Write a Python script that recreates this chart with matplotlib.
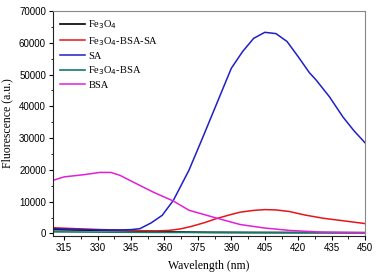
import numpy as np
import matplotlib.pyplot as plt
from matplotlib.ticker import MultipleLocator

# данные
wl_sa = [310, 315, 320, 325, 330, 335, 340, 345, 349, 354, 359, 364, 371, 377, 390, 395, 400, 405, 410, 415, 420, 425, 428, 434, 440, 445, 450]
sa = [1500, 1400, 1300, 1200, 1150, 1100, 1100, 1200, 1500, 3300, 5700, 10400, 19900, 29900, 52000, 57200, 61400, 63300, 62900, 60400, 55600, 50600, 48300, 43000, 36700, 32300, 28500]

wl_bsa = [310, 315, 324, 331, 336, 340, 349, 355, 364, 371, 383, 394, 405, 416, 431, 450]
bsa = [16700, 17800, 18500, 19200, 19200, 18300, 15100, 13000, 10200, 7300, 4900, 2800, 1700, 950, 400, 200]

wl_fbs = [310, 320, 330, 340, 350, 356, 362, 367, 372, 378, 383, 389, 394, 400, 405, 410, 416, 423, 431, 440, 450]
fe_bsa_sa = [1800, 1500, 1250, 1050, 850, 800, 950, 1400, 2200, 3400, 4600, 5800, 6700, 7250, 7500, 7400, 6900, 5800, 4800, 4000, 3100]

wl_fe = [310, 330, 345, 360, 380, 400, 450]
fe3o4 = [1200, 1000, 800, 500, 350, 300, 250]

wl_fb = [310, 350, 400, 450]
fe_bsa = [500, 350, 250, 200]

fig = plt.figure(figsize=(3.78, 2.76), dpi=100)
ax = fig.add_axes([0.140, 0.145, 0.826, 0.815])

ax.plot(wl_fe, fe3o4, color='black', lw=1.2, label=r'Fe$_3$O$_4$')
ax.plot(wl_fbs, fe_bsa_sa, color='#e8141b', lw=1.1, label=r'Fe$_3$O$_4$-BSA-SA')
ax.plot(wl_sa, sa, color='#1f1fc8', lw=1.1, label='SA')
ax.plot(wl_fb, fe_bsa, color='#127a6a', lw=1.2, label=r'Fe$_3$O$_4$-BSA')
ax.plot(wl_bsa, bsa, color='#e020d8', lw=1.1, label='BSA')

ax.set_xlim(310, 450)
ax.set_ylim(-800, 70000)
ax.xaxis.set_minor_locator(MultipleLocator(7.5))
ax.yaxis.set_major_locator(MultipleLocator(10000))
ax.yaxis.set_minor_locator(MultipleLocator(5000))
ax.set_xticks(np.arange(315, 451, 15))

ax.tick_params(axis='both', which='major', labelsize=7, length=3, width=0.8, direction='out', pad=2)
ax.tick_params(axis='both', which='minor', length=1.8, width=0.6, direction='out')
for lab in ax.get_xticklabels() + ax.get_yticklabels():
	lab.set_fontfamily('Liberation Sans')

for side in ['top', 'right']:
	ax.spines[side].set_color('#888888')
for side in ['left', 'bottom']:
	ax.spines[side].set_color('#222222')

ax.set_xlabel('Wavelength (nm)', fontfamily='Liberation Serif', fontsize=8.5, labelpad=5)
ax.set_ylabel('Fluorescence (a.u.)', fontfamily='Liberation Serif', fontsize=8.5, labelpad=4)

leg = ax.legend(loc='upper left', frameon=False, prop={'family': 'Liberation Serif', 'size': 7.5},
                handlelength=2.4, handletextpad=0.3, labelspacing=0.35,
                borderaxespad=0.3, bbox_to_anchor=(0.0, 1.0))

plt.savefig('out.png', dpi=100)
